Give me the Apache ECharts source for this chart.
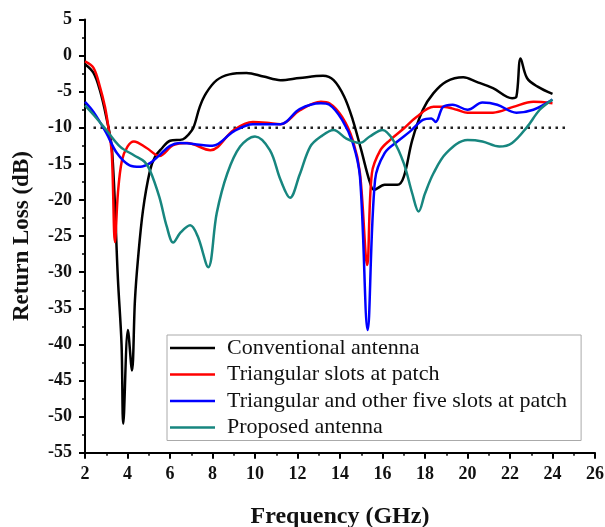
<!DOCTYPE html>
<html><head><meta charset="utf-8">
<script src="https://cdn.jsdelivr.net/npm/echarts@6/dist/echarts.min.js"></script>
<style>html,body{margin:0;padding:0;background:#fff}#c{width:605px;height:527px}</style>
</head><body><div id="c"></div>
<script>
var seriesNames = ['Conventional antenna','Triangular slots at patch','Triangular and other five slots at patch','Proposed antenna'];
var xTicks = [2,4,6,8,10,12,14,16,18,20,22,24,26];
var yTicks = [5,0,-5,-10,-15,-20,-25,-30,-35,-40,-45,-50,-55];
var refLevel = -10;
var refFreq = [2.4, 24.7];

var convFreq = [2,2.4,2.7,3.0,3.27,3.55,3.72,3.8,4.02,4.21,4.35,4.49,4.73,5.06,5.3,5.6,6.0,6.6,6.85,7.1,7.4,7.7,8.2,8.8,9.6,10.4,11.2,12.1,13.2,13.7,14.2,14.6,15.0,15.4,15.6,16.1,16.7,17.0,17.4,17.9,18.4,19.0,19.8,20.4,21.2,22.1,22.3,22.5,22.8,23.3,24.0];
var convRL   = [-1.2,-2.4,-4.8,-8.5,-13,-31,-40,-51,-38,-43.6,-33.9,-28.3,-21.4,-15.9,-14,-12.9,-11.8,-11.6,-11,-10,-7.1,-5.2,-3.4,-2.6,-2.4,-2.9,-3.4,-3.1,-2.8,-3.4,-5.7,-8.9,-13.1,-17.5,-18.6,-17.9,-17.9,-16.8,-11.7,-7.5,-5.2,-3.6,-3.0,-3.6,-4.5,-5.9,-5.7,-0.4,-3.1,-4.3,-5.3];

var triFreq = [2,2.4,2.7,2.94,3.1,3.26,3.41,3.55,3.74,4.0,4.3,4.9,5.5,6.15,6.8,7.9,9.0,9.9,10.55,11.2,12.1,13.1,13.5,14.1,14.6,14.94,15.28,15.5,15.9,16.35,17.0,17.6,18.4,18.85,19.5,20.0,21.2,22.15,23.1,24.0];
var triRL   = [-0.8,-1.7,-4.3,-7.1,-9.9,-13.5,-25.8,-19,-14.5,-12.6,-11.9,-12.8,-13.9,-12.4,-12.1,-13.1,-10.3,-9.2,-9.3,-9.5,-7.6,-6.4,-6.6,-8.5,-11.7,-16.3,-29,-16.3,-13.1,-11.7,-10.1,-8.5,-7.1,-7.1,-7.5,-7.9,-7.9,-7.1,-6.4,-6.6];

var fiveFreq = [2,2.4,3.0,3.5,4.1,4.6,5.06,5.5,6.0,6.47,8.0,9.0,9.9,11.2,12.1,13.1,13.5,14.1,14.6,14.94,15.3,15.65,16.1,16.7,17.3,17.9,18.3,18.5,18.85,19.3,20.0,20.7,21.4,22.3,23.1,24.0];
var fiveRL   = [-6.4,-7.8,-10.7,-13.5,-15.2,-15.4,-14.9,-13.8,-12.5,-12.1,-12.5,-10.5,-9.5,-9.5,-7.4,-6.6,-6.8,-8.9,-12.1,-16.8,-38,-17.2,-13.5,-11.9,-10.5,-8.9,-8.7,-9.2,-7.1,-6.8,-7.5,-6.5,-6.8,-7.9,-7.5,-6.1];

var propFreq = [2,2.4,3.0,3.65,4.3,4.8,5.06,5.5,5.85,6.15,6.5,6.95,7.3,7.8,8.2,8.7,9.3,10.0,10.7,11.2,11.65,12.1,12.6,13.1,13.7,14.3,14.94,15.4,16.0,16.5,17.0,17.4,17.7,18.0,18.4,19.0,20.0,20.7,21.5,22.1,22.8,23.4,24.0];
var propRL   = [-6.9,-8.2,-10.3,-12.6,-13.8,-14.7,-15.9,-19.6,-23.7,-25.9,-24.5,-23.5,-25,-29.3,-21.8,-16.3,-12.6,-11.2,-13.1,-17.2,-19.7,-16.5,-12.6,-11.2,-10.3,-11.5,-12.1,-11.2,-10.3,-11.7,-14.9,-19.1,-21.6,-19.1,-16.3,-13.5,-11.7,-11.9,-12.6,-12.1,-9.9,-7.5,-6.1];

function pairs(xs, ys){ return xs.map(function(x,i){ return [x, ys[i]]; }); }

var serif = "'Liberation Serif','Times New Roman',serif";
var colors = ['#000000','#ff0000','#0000ff','#17867f'];

var chart = echarts.init(document.getElementById('c'));
var dataSets = [pairs(convFreq, convRL), pairs(triFreq, triRL), pairs(fiveFreq, fiveRL), pairs(propFreq, propRL)];
var series = dataSets.map(function(d, i){
  return { name: seriesNames[i], type: 'line', data: d, smooth: 0.35, showSymbol: false,
           lineStyle: { color: colors[i], width: 2.5 }, itemStyle: { color: colors[i] }, z: 3 + i };
});
series.unshift({ name: 'ref', type: 'line', data: refFreq.map(function(f){ return [f, refLevel]; }),
  showSymbol: false, silent: true, lineStyle: { color: '#222', width: 2.5, type: [2.5, 4.5] }, z: 2 });

chart.setOption({
  animation: false,
  backgroundColor: '#fff',
  grid: { left: 85, right: 10, top: 19.5, bottom: 74.3, outerBoundsMode: 'none', containLabel: false },
  legend: {
    data: seriesNames, orient: 'vertical', left: 167, top: 335,
    itemWidth: 45, itemHeight: 14, itemGap: 4.5,
    icon: 'path://M0,6 L45,6 L45,8.5 L0,8.5 Z',
    padding: [2, 14, 2, 3],
    borderColor: '#aaa', borderWidth: 1, backgroundColor: '#fff',
    textStyle: { fontFamily: serif, fontSize: 22, color: '#111', lineHeight: 22, padding: [0,0,0,7] }
  },
  xAxis: {
    type: 'value', min: 2, max: 26, interval: 2,
    name: 'Frequency (GHz)', nameLocation: 'middle', nameGap: 52,
    nameTextStyle: { fontFamily: serif, fontSize: 24, fontWeight: 'bold', color: '#111' },
    axisLine: { onZero: false, lineStyle: { color: '#000', width: 2 } },
    axisTick: { inside: false, length: 6, lineStyle: { width: 2, color: '#000' } },
    minorTick: { show: true, splitNumber: 2, length: 3, lineStyle: { width: 1.5, color: '#000' } },
    axisLabel: { fontFamily: serif, fontSize: 18, fontWeight: 'bold', color: '#111', margin: 13 },
    splitLine: { show: false }
  },
  yAxis: {
    type: 'value', min: -55, max: 5, interval: 5,
    name: 'Return Loss (dB)', nameLocation: 'middle', nameGap: 51, nameRotate: 90,
    nameTextStyle: { fontFamily: serif, fontSize: 23, fontWeight: 'bold', color: '#111' },
    axisLine: { onZero: false, lineStyle: { color: '#000', width: 2 } },
    axisTick: { inside: false, length: 6, lineStyle: { width: 2, color: '#000' } },
    minorTick: { show: true, splitNumber: 2, length: 3, lineStyle: { width: 1.5, color: '#000' } },
    axisLabel: { fontFamily: serif, fontSize: 18, fontWeight: 'bold', color: '#111', margin: 13 },
    splitLine: { show: false }
  },
  series: series
});
</script></body></html>
